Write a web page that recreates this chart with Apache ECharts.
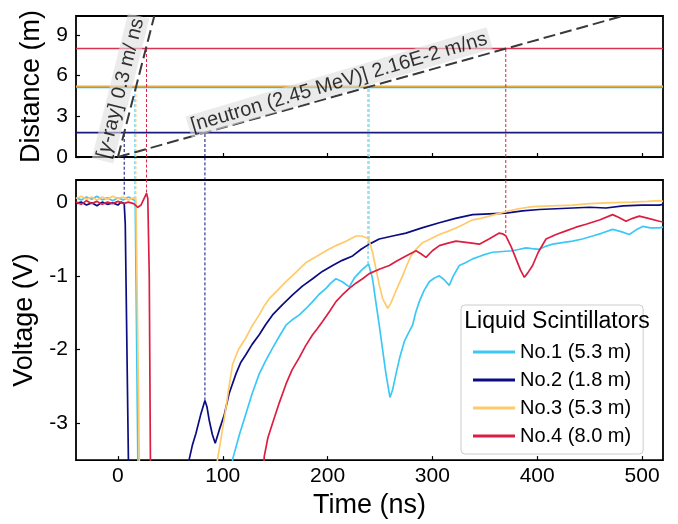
<!DOCTYPE html>
<html>
  <head>
    <title>Liquid scintillator waveforms</title>
    <meta charset="UTF-8" />
    <script src="https://cdn.jsdelivr.net/npm/echarts@6/dist/echarts.min.js"></script>
    <style>
      html, body { margin: 0; padding: 0; background: #fff; }
    </style>
  </head>
  <body>
    <div id="main"></div>
    <script>
      const width = 678;
      const height = 524;
      const main = document.getElementById('main');
      main.style.width = `${width}px`;
      main.style.height = `${height}px`;

      const FONT = 'Liberation Sans, Arial, sans-serif';

      // detectors, in legend order
      const names = ['No.1 (5.3 m)', 'No.2 (1.8 m)', 'No.3 (5.3 m)', 'No.4 (8.0 m)'];
      const colors = ['#3cc8f6', '#0c0c82', '#ffca6a', '#dc1e42'];
      const topColors = ['#2fbde6', '#1b1b7e', '#e4ad45', '#d93352'];
      const distances = [5.13, 1.8, 5.22, 8.0];

      // arrival times (ns)
      const gammaTimes = [16.2, 6.0, 17.2, 27.3];
      const neutronTimes = [238.6, 83.0, 239.9, 370.0];
      // where the markers stop in the voltage panel (V)
      const gammaEnds = [0.04, 0.1, 0.04, 0.13];
      const neutronEnds = [-0.84, -2.69, -0.5, -0.42];

      // time-of-flight lines (ns, m)
      const gammaLine = [[0, 0], [34.7, 10.4]];
      const neutronLine = [[0, 0], [481.5, 10.4]];

      const timeTicks = [0, 100, 200, 300, 400, 500];
      const distTicks = [0, 3, 6, 9];
      const voltTicks = [-3, -2, -1, 0];

      // waveforms [ns, V]
      const wave1 = [[-40,0.06],[-35,0.03],[-30,0.07],[-25,0.04],[-20,0.08],[-15,0.03],[-10,0.06],[-5,0.02],[0,0.06],[5,0.03],[10,0.07],[14,0.04],[16.5,0.02],[19,-3.5],[19.5,-5],[100,-5],[108,-3.8],[109.4,-3.49],[116,-3.15],[122.1,-2.87],[128,-2.6],[134.8,-2.33],[141,-2.15],[147.5,-1.98],[154,-1.82],[160.3,-1.67],[166,-1.6],[173,-1.53],[179,-1.45],[185.7,-1.35],[192,-1.25],[198.5,-1.17],[203,-1.1],[208,-1.04],[214,-1.08],[220.7,-1.15],[226,-1.02],[233.4,-0.91],[239.1,-0.84],[240.5,-0.86],[242.9,-1.04],[246,-1.35],[249.3,-1.67],[252.5,-2.0],[255.7,-2.33],[259.5,-2.65],[262,-2.55],[265.3,-2.33],[269,-2.1],[273.2,-1.89],[277,-1.78],[281.1,-1.67],[284,-1.5],[287.5,-1.35],[292,-1.2],[297,-1.08],[302,-1.03],[306.6,-1.0],[311,-1.05],[316.1,-1.13],[320,-1.0],[325.7,-0.86],[332,-0.82],[338.4,-0.77],[348,-0.72],[357.4,-0.68],[367,-0.67],[376.5,-0.66],[383,-0.64],[389.3,-0.62],[395,-0.63],[402,-0.64],[408,-0.6],[414.7,-0.57],[424,-0.55],[433.8,-0.53],[443,-0.5],[452.9,-0.46],[462,-0.42],[471.9,-0.37],[480,-0.4],[487.9,-0.44],[494,-0.38],[500.6,-0.33],[508,-0.35],[516.5,-0.35],[520,-0.34]];
      const wave2 = [[-40,-0.02],[-35,0.0],[-30,-0.04],[-25,-0.01],[-20,-0.05],[-15,0.0],[-10,-0.03],[-5,-0.01],[0,-0.04],[3,0.0],[6,-0.02],[7,-0.3],[10,-3.5],[10.5,-5],[60,-5],[66,-3.8],[68,-3.49],[71,-3.3],[74.4,-3.14],[79.2,-2.87],[83,-2.69],[85,-2.78],[87.1,-2.96],[90,-3.15],[92.8,-3.27],[96.7,-3.09],[101.4,-2.89],[106,-2.6],[112.6,-2.33],[117,-2.18],[122,-2.07],[128,-1.93],[134.8,-1.8],[141,-1.66],[147.5,-1.53],[157,-1.39],[166.6,-1.26],[176,-1.14],[185.7,-1.04],[195,-0.94],[204.8,-0.86],[214,-0.79],[223.9,-0.73],[232,-0.64],[239.8,-0.57],[249.3,-0.5],[262,-0.46],[274.8,-0.42],[290,-0.35],[306.6,-0.28],[322,-0.22],[338.4,-0.17],[354,-0.16],[370.2,-0.15],[386,-0.12],[402,-0.1],[418,-0.09],[433.8,-0.08],[450,-0.07],[465.6,-0.08],[482,-0.05],[500,-0.04],[516.5,-0.04],[520,-0.03]];
      const wave3 = [[-40,0.05],[-35,0.08],[-30,0.04],[-25,0.07],[-20,0.03],[-15,0.07],[-10,0.04],[-5,0.08],[0,0.05],[5,0.07],[10,0.03],[15,0.06],[17.2,0.03],[20.4,-3.5],[21,-5],[88,-5],[94,-3.8],[95,-3.49],[99,-3.15],[103,-2.8],[106,-2.5],[109.4,-2.2],[115,-2.0],[122.1,-1.84],[128,-1.68],[134.8,-1.53],[139,-1.42],[144.4,-1.31],[152,-1.2],[160.3,-1.08],[170,-0.95],[179.4,-0.82],[189,-0.74],[198.5,-0.66],[208,-0.59],[217.6,-0.53],[227.1,-0.46],[232,-0.46],[236.6,-0.48],[239.1,-0.5],[242.9,-0.68],[246.2,-0.91],[249.3,-1.12],[252.5,-1.31],[257.3,-1.44],[260,-1.38],[263.6,-1.26],[267.5,-1.13],[271.6,-1.0],[275.5,-0.86],[279.6,-0.73],[285,-0.63],[290.6,-0.55],[298,-0.5],[306.6,-0.44],[314,-0.4],[322.5,-0.35],[330,-0.3],[338.4,-0.24],[346,-0.22],[354.3,-0.19],[362,-0.16],[370.2,-0.13],[382,-0.09],[395.6,-0.06],[414,-0.05],[433.8,-0.04],[450,-0.02],[465.6,-0.01],[490,0.0],[505,0.01],[516.5,0.02],[520,0.01]];
      const wave4 = [[-40,0.0],[-35,-0.03],[-30,0.02],[-25,-0.02],[-20,0.01],[-15,-0.03],[-10,0.0],[-5,-0.02],[0,0.01],[5,-0.02],[10,0.0],[15,-0.02],[19,-0.07],[22,-0.04],[25,0.05],[27.3,0.12],[28.5,0.05],[29.9,-1.0],[31,-3.5],[31.5,-5],[132,-5],[138,-3.8],[139.6,-3.45],[143,-3.2],[147.5,-3.0],[154,-2.72],[160.3,-2.47],[166,-2.28],[173,-2.11],[179,-1.95],[185.7,-1.8],[190,-1.72],[195.2,-1.62],[202,-1.48],[208,-1.35],[214,-1.26],[220.7,-1.17],[227,-1.1],[233.4,-1.04],[239.8,-0.97],[249.3,-0.91],[258.9,-0.86],[266,-0.8],[274.8,-0.73],[284.4,-0.66],[289,-0.7],[293.9,-0.75],[300,-0.66],[306.6,-0.59],[314,-0.56],[322.5,-0.53],[334,-0.55],[344.8,-0.57],[354,-0.5],[363.8,-0.42],[367,-0.43],[370.2,-0.46],[375,-0.6],[379.8,-0.77],[384,-0.92],[387.7,-1.02],[391,-0.96],[395.6,-0.86],[401,-0.68],[408.4,-0.5],[418,-0.44],[427.5,-0.39],[437,-0.34],[446.6,-0.3],[460,-0.24],[471.9,-0.17],[478,-0.21],[484.7,-0.26],[491,-0.22],[497.4,-0.19],[506,-0.22],[516.5,-0.26],[520,-0.27]];
      const waves = [wave1, wave2, wave3, wave4];

      const T_MIN = -40;
      const T_MAX = 520;
      const GAP_TOP = 0.6; // voltage value at the bottom of the upper panel

      const tickLabel = { fontFamily: FONT, fontSize: 21, color: '#000' };
      const axisName = { fontFamily: FONT, fontSize: 27, color: '#000' };

      function xAxisFor(gridIndex, labels) {
        return {
          type: 'value',
          gridIndex,
          min: T_MIN,
          max: T_MAX,
          name: labels ? 'Time (ns)' : '',
          nameLocation: 'middle',
          nameGap: 30,
          nameTextStyle: axisName,
          axisLine: { show: false, onZero: false },
          splitLine: { show: false },
          axisTick: {
            inside: true,
            length: 4,
            customValues: timeTicks,
            lineStyle: { color: '#000', width: 1.2 },
          },
          axisLabel: Object.assign(
            { show: labels, margin: 6, customValues: timeTicks },
            tickLabel
          ),
        };
      }

      function yAxisFor(gridIndex, min, max, ticks, name) {
        return {
          type: 'value',
          gridIndex,
          min,
          max,
          name,
          nameLocation: 'middle',
          nameGap: 27,
          nameTextStyle: axisName,
          axisLine: { show: false, onZero: false },
          splitLine: { show: false },
          axisTick: {
            inside: true,
            length: 4,
            customValues: ticks,
            lineStyle: { color: '#000', width: 1.2 },
          },
          axisLabel: Object.assign(
            { margin: 8, customValues: ticks },
            tickLabel
          ),
        };
      }

      const series = [];

      // upper panel: detector distances
      names.forEach((name, i) => {
        series.push({
          type: 'line',
          xAxisIndex: 0,
          yAxisIndex: 0,
          data: [[T_MIN, distances[i]], [T_MAX, distances[i]]],
          showSymbol: false,
          symbol: 'none',
          lineStyle: { color: topColors[i], width: 1.6 },
          silent: true,
        });
      });

      // markers through both panels
      names.forEach((name, i) => {
        [[gammaTimes[i], gammaEnds[i]], [neutronTimes[i], neutronEnds[i]]].forEach(
          ([t, v]) => {
            series.push({
              type: 'line',
              xAxisIndex: 0,
              yAxisIndex: 0,
              data: [[t, 0], [t, distances[i]]],
              symbol: 'none',
              lineStyle: { color: colors[i], width: 1, type: [3, 2] },
              silent: true,
            });
            series.push({
              type: 'line',
              xAxisIndex: 1,
              yAxisIndex: 1,
              clip: false,
              data: [[t, v], [t, GAP_TOP]],
              symbol: 'none',
              lineStyle: { color: colors[i], width: 1, type: [3, 2] },
              silent: true,
            });
          }
        );
      });

      // time-of-flight lines
      [gammaLine, neutronLine].forEach((data) => {
        series.push({
          type: 'line',
          xAxisIndex: 0,
          yAxisIndex: 0,
          data,
          symbol: 'none',
          lineStyle: { color: '#3a3a3a', width: 2, type: [12, 5] },
          silent: true,
          z: 3,
        });
      });

      // rotated labels of the lines
      const labelBox = {
        show: true,
        position: 'inside',
        fontFamily: FONT,
        fontSize: 20,
        color: '#000',
        backgroundColor: 'rgba(222,222,222,0.75)',
        padding: [1, 3],
      };
      series.push({
        type: 'scatter',
        xAxisIndex: 0,
        yAxisIndex: 0,
        symbolSize: 0,
        data: [[2.6, 5.07]],
        label: Object.assign({}, labelBox, {
          rotate: 76,
          formatter: '[{g|γ}-ray] 0.3 m/ ns',
          rich: { g: { fontStyle: 'italic', fontFamily: FONT, fontSize: 20, color: '#000' } },
        }),
        silent: true,
        z: 5,
      });
      series.push({
        type: 'scatter',
        xAxisIndex: 0,
        yAxisIndex: 0,
        symbolSize: 0,
        data: [[211, 5.5]],
        label: Object.assign({}, labelBox, {
          rotate: 16.5,
          formatter: '[neutron (2.45 MeV)] 2.16E-2 m/ns',
        }),
        silent: true,
        z: 5,
      });

      // lower panel: waveforms
      names.forEach((name, i) => {
        series.push({
          name,
          type: 'line',
          xAxisIndex: 1,
          yAxisIndex: 1,
          data: waves[i],
          showSymbol: false,
          symbol: 'none',
          clip: true,
          color: colors[i],
          lineStyle: { color: colors[i], width: 1.7 },
          silent: true,
        });
      });

      const myChart = echarts.init(main, null, { renderer: 'canvas' });
      const option = {
        animation: false,
        backgroundColor: '#fff',
        title: {
          text: 'Liquid Scintillators',
          left: 557,
          top: 310,
          textAlign: 'center',
          padding: 0,
          textStyle: { fontFamily: FONT, fontSize: 23, fontWeight: 'normal', color: '#000' },
          z: 20,
        },
        legend: {
          data: names,
          orient: 'vertical',
          left: 461,
          top: 305,
          padding: [37, 12, 8, 12],
          itemWidth: 42,
          itemHeight: 3,
          itemGap: 8,
          itemTextGap: 15,
          icon: 'rect',
          backgroundColor: 'rgba(255,255,255,0.85)',
          borderColor: '#cccccc',
          borderWidth: 1,
          borderRadius: 4,
          textStyle: { fontFamily: FONT, fontSize: 20, lineHeight: 20, color: '#000' },
          selectedMode: false,
          z: 10,
        },
        grid: [
          { left: 76, right: 15, top: 16, height: 141, show: true, borderColor: '#000', borderWidth: 1.8, backgroundColor: 'transparent' },
          { left: 76, right: 15, top: 180, height: 284, show: true, borderColor: '#000', borderWidth: 1.8, backgroundColor: 'transparent' },
        ],
        xAxis: [xAxisFor(0, false), xAxisFor(1, true)],
        yAxis: [
          yAxisFor(0, 0, 10.4, distTicks, 'Distance (m)'),
          yAxisFor(1, -3.5, 0.3, voltTicks, 'Voltage (V)'),
        ],
        series,
      };
      myChart.setOption(option);
    </script>
  </body>
</html>
